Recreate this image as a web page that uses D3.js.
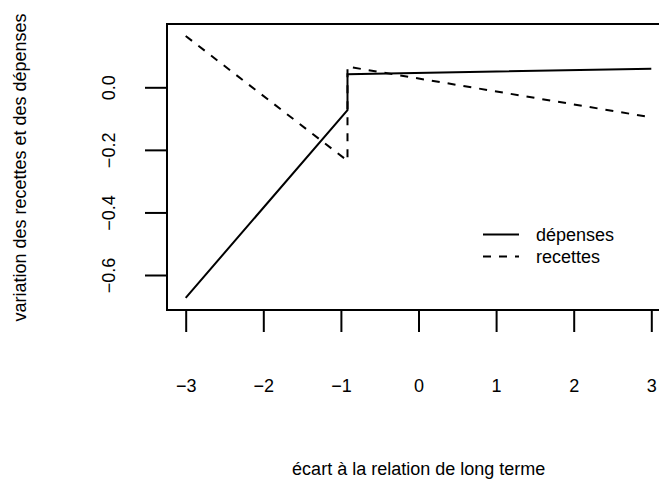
<!DOCTYPE html>
<html><head><meta charset="utf-8">
<script src="https://cdn.jsdelivr.net/npm/d3@7"></script>
<style>body{margin:0;background:#fff}text{font-family:"Liberation Sans",Arial,sans-serif;fill:#000}</style>
</head><body><svg id="c" width="659" height="482"></svg>
<script>
const xTicks=[-3,-2,-1,0,1,2,3];
const yTicks=[-0.6,-0.4,-0.2,0.0];
const depensesX=[-3,-0.915,-0.915,3];
const depensesY=[-0.673,-0.073,0.042,0.059];
const recettesX=[-3,-0.915,-0.915,3];
const recettesY=[0.164,-0.235,0.066,-0.096];
const seriesNames=["dépenses","recettes"];

const FS=18;
const FONT='"Liberation Sans",Arial,sans-serif';
const svg=d3.select("#c");
const x=d3.scaleLinear().domain([-3,3]).range([185.7,651.3]);
const y=d3.scaleLinear().domain([-0.6,0]).range([275,87.3]);
const x0=x.invert(167), x1=x.invert(672);
const yTop=y.invert(24), yBot=y.invert(310);
const fmt=(d,p)=>(d<0?"\u2212":"")+Math.abs(d).toFixed(p);

// box
svg.append("rect").attr("x",x(x0)).attr("y",y(yTop)).attr("width",x(x1)-x(x0)).attr("height",y(yBot)-y(yTop))
 .attr("fill","none").attr("stroke","#000").attr("stroke-width",2);

// x axis
const xa=svg.append("g").attr("transform",`translate(0,${y(yBot)})`)
 .call(d3.axisBottom(x).tickValues(xTicks).tickSize(22).tickPadding(47).tickFormat(d=>fmt(d,0)));
xa.select(".domain").remove();
xa.attr("font-size",FS).attr("font-family",FONT);
xa.selectAll("line").attr("stroke-width",2);

// y axis
const ya=svg.append("g").attr("transform",`translate(${x(x0)},0)`)
 .call(d3.axisLeft(y).tickValues(yTicks).tickSize(22).tickFormat(d=>fmt(d,1)));
ya.select(".domain").remove();
ya.attr("font-size",FS).attr("font-family",FONT);
ya.selectAll("line").attr("stroke-width",2);
ya.selectAll("text").attr("x",null).attr("dy","0.35em")
 .attr("transform","translate(-58.5,0) rotate(-90)").attr("text-anchor","middle");

// lines
const line=d3.line().x(d=>x(d[0])).y(d=>y(d[1]));
svg.append("path").datum(depensesX.map((v,i)=>[v,depensesY[i]])).attr("d",line)
 .attr("fill","none").attr("stroke","#000").attr("stroke-width",2);
svg.append("path").datum(recettesX.map((v,i)=>[v,recettesY[i]])).attr("d",line)
 .attr("fill","none").attr("stroke","#000").attr("stroke-width",2).attr("stroke-dasharray","8,8");

// legend
const lg=svg.append("g");
[0,1].forEach(i=>{
  const yy=234.5+i*22;
  lg.append("line").attr("x1",483).attr("x2",519).attr("y1",yy).attr("y2",yy)
    .attr("stroke","#000").attr("stroke-width",2).attr("stroke-dasharray",i?"8,8":null);
  lg.append("text").attr("x",536).attr("y",yy).attr("dy","0.35em").attr("font-size",FS).text(seriesNames[i]);
});

// axis titles
svg.append("text").attr("x",418.7).attr("y",475).attr("text-anchor","middle").attr("font-size",FS).text("écart à la relation de long terme");
svg.append("text").attr("transform","translate(26,167.5) rotate(-90)").attr("text-anchor","middle").attr("font-size",FS).text("variation des recettes et des dépenses");
</script></body></html>
